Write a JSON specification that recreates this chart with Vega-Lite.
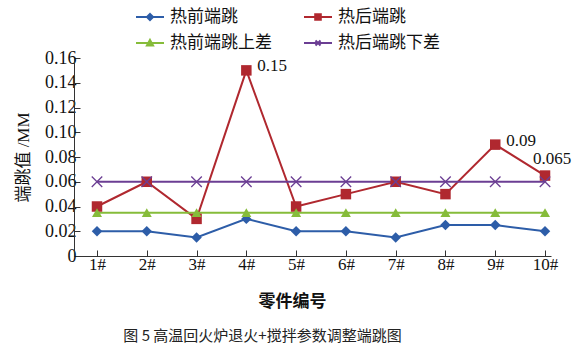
{
  "$schema": "https://vega.github.io/schema/vega-lite/v6.json",
  "width": 477,
  "height": 198,
  "autosize": "none",
  "padding": {"left": 74, "top": 58, "right": 32, "bottom": 100},
  "background": "white",
  "config": {
    "view": {"stroke": null},
    "font": "Liberation Serif, Noto Sans CJK SC",
    "axis": {"domainColor": "#333", "tickColor": "#333", "labelColor": "#111", "titleColor": "#111", "grid": false}
  },
  "title": {
    "text": "图 5  高温回火炉退火+搅拌参数调整端跳图",
    "orient": "bottom",
    "anchor": "middle",
    "dx": -50,
    "offset": 20,
    "font": "Noto Sans CJK SC",
    "fontSize": 15,
    "fontWeight": "normal",
    "color": "#222"
  },
  "datasets": {
    "main": [
      {"part": 1, "series": "热前端跳", "value": 0.02},
      {"part": 2, "series": "热前端跳", "value": 0.02},
      {"part": 3, "series": "热前端跳", "value": 0.015},
      {"part": 4, "series": "热前端跳", "value": 0.03},
      {"part": 5, "series": "热前端跳", "value": 0.02},
      {"part": 6, "series": "热前端跳", "value": 0.02},
      {"part": 7, "series": "热前端跳", "value": 0.015},
      {"part": 8, "series": "热前端跳", "value": 0.025},
      {"part": 9, "series": "热前端跳", "value": 0.025},
      {"part": 10, "series": "热前端跳", "value": 0.02},
      {"part": 1, "series": "热后端跳", "value": 0.04},
      {"part": 2, "series": "热后端跳", "value": 0.06},
      {"part": 3, "series": "热后端跳", "value": 0.03},
      {"part": 4, "series": "热后端跳", "value": 0.15},
      {"part": 5, "series": "热后端跳", "value": 0.04},
      {"part": 6, "series": "热后端跳", "value": 0.05},
      {"part": 7, "series": "热后端跳", "value": 0.06},
      {"part": 8, "series": "热后端跳", "value": 0.05},
      {"part": 9, "series": "热后端跳", "value": 0.09},
      {"part": 10, "series": "热后端跳", "value": 0.065},
      {"part": 1, "series": "热前端跳上差", "value": 0.035},
      {"part": 2, "series": "热前端跳上差", "value": 0.035},
      {"part": 3, "series": "热前端跳上差", "value": 0.035},
      {"part": 4, "series": "热前端跳上差", "value": 0.035},
      {"part": 5, "series": "热前端跳上差", "value": 0.035},
      {"part": 6, "series": "热前端跳上差", "value": 0.035},
      {"part": 7, "series": "热前端跳上差", "value": 0.035},
      {"part": 8, "series": "热前端跳上差", "value": 0.035},
      {"part": 9, "series": "热前端跳上差", "value": 0.035},
      {"part": 10, "series": "热前端跳上差", "value": 0.035},
      {"part": 1, "series": "热后端跳下差", "value": 0.06},
      {"part": 2, "series": "热后端跳下差", "value": 0.06},
      {"part": 3, "series": "热后端跳下差", "value": 0.06},
      {"part": 4, "series": "热后端跳下差", "value": 0.06},
      {"part": 5, "series": "热后端跳下差", "value": 0.06},
      {"part": 6, "series": "热后端跳下差", "value": 0.06},
      {"part": 7, "series": "热后端跳下差", "value": 0.06},
      {"part": 8, "series": "热后端跳下差", "value": 0.06},
      {"part": 9, "series": "热后端跳下差", "value": 0.06},
      {"part": 10, "series": "热后端跳下差", "value": 0.06}
    ],
    "notes": [
      {"part": 4, "value": 0.15, "label": "0.15", "pos": "right"},
      {"part": 9, "value": 0.09, "label": "0.09", "pos": "right"},
      {"part": 10, "value": 0.065, "label": "0.065", "pos": "above"}
    ]
  },
  "encoding": {
    "x": {
      "field": "part",
      "type": "quantitative",
      "scale": {"domain": [0.538, 10.12], "nice": false, "zero": false},
      "axis": {
        "values": [1, 2, 3, 4, 5, 6, 7, 8, 9, 10],
        "labelExpr": "datum.value + '#'",
        "tickSize": -6,
        "labelPadding": 6,
        "labelFontSize": 17,
        "labelFont": "Liberation Serif",
        "title": "零件编号",
        "titleFont": "Noto Sans CJK SC",
        "titleFontSize": 17,
        "titleFontWeight": "bold",
        "titleX": 218,
        "titlePadding": 21
      }
    },
    "y": {
      "field": "value",
      "type": "quantitative",
      "scale": {"domain": [0, 0.16], "nice": false},
      "axis": {
        "values": [0, 0.02, 0.04, 0.06, 0.08, 0.1, 0.12, 0.14, 0.16],
        "labelExpr": "datum.value == 0 ? '0' : format(datum.value, '.2f')",
        "tickSize": -6,
        "labelPadding": 4,
        "labelFontSize": 18,
        "labelFont": "Liberation Serif",
        "title": "端跳值 /MM",
        "titleFont": "Liberation Serif, Noto Sans CJK SC",
        "titleFontSize": 17,
        "titleFontWeight": "normal",
        "titlePadding": 12
      }
    }
  },
  "layer": [
    {
      "data": {"name": "main"},
      "mark": {"type": "line", "strokeWidth": 2},
      "encoding": {
        "color": {
          "field": "series",
          "type": "nominal",
          "scale": {
            "domain": ["热前端跳", "热后端跳", "热前端跳上差", "热后端跳下差"],
            "range": ["#2D5DA8", "#B0282F", "#86BC3A", "#6B3E93"]
          },
          "legend": {
            "title": null,
            "orient": "none",
            "legendX": 61,
            "legendY": -56,
            "columns": 2,
            "direction": "horizontal",
            "padding": 0,
            "columnPadding": 28,
            "rowPadding": 3,
            "symbolType": "M-1,0H1",
            "symbolSize": 784,
            "symbolStrokeWidth": 2,
            "labelFont": "Noto Sans CJK SC",
            "labelFontSize": 17,
            "labelColor": "#111",
            "labelOffset": 5,
            "encode": {
              "symbols": {
                "update": {
                  "shape": {"signal": "datum.value == '热前端跳' ? 'M-1,0H1M0,-0.22L0.22,0L0,0.22L-0.22,0Z' : datum.value == '热后端跳' ? 'M-1,0H1M-0.2,-0.2H0.2V0.2H-0.2Z' : datum.value == '热前端跳上差' ? 'M-1,0H1M0,-0.22L0.22,0.18H-0.22Z' : 'M-1,0H1M-0.18,-0.18L0.18,0.18M0.18,-0.18L-0.18,0.18'"},
                  "fill": {"signal": "scale('color', datum.value)"},
                  "stroke": {"signal": "scale('color', datum.value)"},
                  "strokeWidth": {"value": 2},
                  "opacity": {"value": 1},
                  "fillOpacity": {"value": 1}
                }
              }
            }
          }
        }
      }
    },
    {
      "data": {"name": "main"},
      "transform": [{"filter": "datum.series == '热前端跳'"}],
      "mark": {"type": "point", "filled": true, "shape": "diamond", "size": 110, "opacity": 1},
      "encoding": {"color": {"field": "series", "type": "nominal"}}
    },
    {
      "data": {"name": "main"},
      "transform": [{"filter": "datum.series == '热后端跳'"}],
      "mark": {"type": "point", "filled": true, "shape": "square", "size": 110, "opacity": 1},
      "encoding": {"color": {"field": "series", "type": "nominal"}}
    },
    {
      "data": {"name": "main"},
      "transform": [{"filter": "datum.series == '热前端跳上差'"}],
      "mark": {"type": "point", "filled": true, "shape": "triangle-up", "size": 100, "opacity": 1},
      "encoding": {"color": {"field": "series", "type": "nominal"}}
    },
    {
      "data": {"name": "main"},
      "transform": [{"filter": "datum.series == '热后端跳下差'"}],
      "mark": {"type": "point", "filled": false, "shape": "M-1,-1L1,1M1,-1L-1,1", "size": 110, "strokeWidth": 1.3, "opacity": 1},
      "encoding": {"color": {"field": "series", "type": "nominal"}}
    },
    {
      "data": {"name": "notes"},
      "transform": [{"filter": "datum.pos == 'right'"}],
      "mark": {"type": "text", "align": "left", "baseline": "middle", "dx": 11, "dy": -4, "fontSize": 17, "font": "Liberation Serif", "color": "#111"},
      "encoding": {"text": {"field": "label"}}
    },
    {
      "data": {"name": "notes"},
      "transform": [{"filter": "datum.pos == 'above'"}],
      "mark": {"type": "text", "align": "left", "baseline": "middle", "dx": -12, "dy": -17, "fontSize": 17, "font": "Liberation Serif", "color": "#111"},
      "encoding": {"text": {"field": "label"}}
    }
  ]
}
